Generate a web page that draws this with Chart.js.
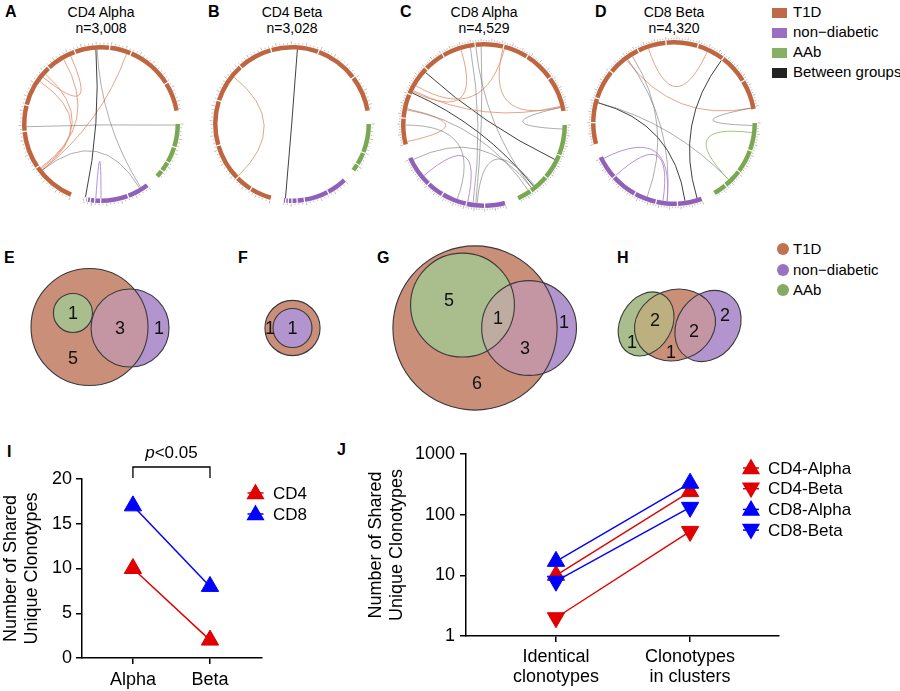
<!DOCTYPE html>
<html><head><meta charset="utf-8"><title>Shared clonotypes across T1D, non-diabetic and AAb donors</title>
<script src="https://cdn.jsdelivr.net/npm/chart.js@4.4.1/dist/chart.umd.min.js"></script>
<style>
html,body{margin:0;padding:0;background:#fff;}
body{width:900px;height:691px;position:relative;overflow:hidden;font-family:"Liberation Sans",Arial,Helvetica,sans-serif;color:#000;}
canvas{position:absolute;}
.L{position:absolute;font-weight:bold;font-size:16px;line-height:16px;}
.T{position:absolute;width:160px;text-align:center;font-size:14px;line-height:16px;}
.leg{position:absolute;font-size:15px;line-height:20px;white-space:nowrap;}
.sw{display:inline-block;width:15px;height:10px;margin-right:6px;vertical-align:-1px;}
.dot{display:inline-block;width:12px;height:12px;border-radius:50%;margin-right:4px;vertical-align:-1px;}
</style></head><body>

<div class="L" style="left:5px;top:4px">A</div>
<div class="L" style="left:208px;top:4px">B</div>
<div class="L" style="left:400px;top:4px">C</div>
<div class="L" style="left:595px;top:4px">D</div>
<div class="L" style="left:4px;top:250px">E</div>
<div class="L" style="left:238px;top:250px">F</div>
<div class="L" style="left:377px;top:250px">G</div>
<div class="L" style="left:617px;top:250px">H</div>
<div class="L" style="left:7px;top:444px">I</div>
<div class="L" style="left:337px;top:442px">J</div>

<div class="T" id="tA" style="left:21px;top:4px"></div>
<div class="T" id="tB" style="left:212px;top:4px"></div>
<div class="T" id="tC" style="left:404px;top:4px"></div>
<div class="T" id="tD" style="left:594px;top:4px"></div>

<div id="leg1"></div>
<div id="leg2"></div>

<canvas id="cA" width="200" height="200" style="left:1px;top:24px"></canvas>
<canvas id="cB" width="200" height="200" style="left:192px;top:24px"></canvas>
<canvas id="cC" width="200" height="200" style="left:384px;top:25px"></canvas>
<canvas id="cD" width="200" height="200" style="left:574px;top:23px"></canvas>

<canvas id="vE" width="200" height="180" style="left:0px;top:240px"></canvas>
<canvas id="vF" width="130" height="180" style="left:230px;top:240px"></canvas>
<canvas id="vG" width="230" height="200" style="left:370px;top:230px"></canvas>
<canvas id="vH" width="160" height="150" style="left:600px;top:250px"></canvas>

<canvas id="chI" width="340" height="261" style="left:0px;top:430px"></canvas>
<canvas id="chJ" width="560" height="261" style="left:340px;top:430px"></canvas>

<script>
// ======================= DATA =======================
// Circos panels (A-D): clonotype counts per donor, per group
const circosTitles = ['CD4 Alpha', 'CD4 Beta', 'CD8 Alpha', 'CD8 Beta'];
const circosTotals = [3008, 3028, 4529, 4320];
const groupNames = ['T1D', 'non\u2212diabetic', 'AAb', 'Between groups'];

const cd4AlphaT1D = [300, 260, 180, 300, 210, 240, 150, 320, 200];
const cd4AlphaAAb = [160, 112, 70, 50];
const cd4AlphaND  = [150, 190, 40, 30, 20, 12, 8, 6];
const cd4BetaT1D  = [150, 120, 260, 310, 280, 240, 330, 299, 250];
const cd4BetaAAb  = [200, 90, 49];
const cd4BetaND   = [140, 170, 50, 35, 25, 18, 12];
const cd8AlphaT1D = [260, 240, 300, 210, 330, 280, 250, 305, 350];
const cd8AlphaAAb = [300, 250, 200, 142];
const cd8AlphaND  = [200, 180, 250, 170, 312];
const cd8BetaT1D  = [200, 230, 280, 320, 270, 300, 260, 282, 280];
const cd8BetaAAb  = [260, 220, 180, 125];
const cd8BetaND   = [230, 200, 210, 250, 223];

// shared-clonotype links: [group, relative position in group, group, relative position, link type]
// group: T = T1D, A = AAb, N = non-diabetic ; type: T/A/N within group, X / XD between groups
const cd4AlphaLinks = [
  ['T', 0.447, 'T', 0.561, 'T'], ['T', 0.430, 'T', 0.122, 'T'], ['T', 0.460, 'T', 0.127, 'T'],
  ['T', 0.536, 'T', 0.131, 'T'], ['T', 0.747, 'T', 0.122, 'T'], ['T', 0.274, 'A', 0.02, 'X'],
  ['T', 0.646, 'N', 0.98, 'XD'], ['T', 0.650, 'N', 0.10, 'X'], ['T', 0.122, 'N', 0.12, 'X'],
  ['N', 0.74, 'N', 0.82, 'N']
];
const cd4BetaLinks = [
  ['T', 0.463, 'T', 0.123, 'T'], ['T', 0.689, 'N', 0.98, 'XD']
];
const cd8AlphaLinks = [
  ['T', 0.304, 'A', 0.40, 'XD'], ['T', 0.207, 'A', 0.785, 'XD'], ['T', 0.01, 'T', 0.136, 'T'],
  ['T', 0.641, 'T', 0.984, 'T'], ['T', 0.473, 'T', 0.212, 'T'], ['T', 0.647, 'T', 0.239, 'T'],
  ['T', 0.511, 'N', 0.284, 'X'], ['T', 0.533, 'A', 0.815, 'X'], ['N', 0.975, 'A', 0.815, 'X'],
  ['N', 0.802, 'N', 0.333, 'N'], ['N', 0.247, 'A', 0.77, 'X'], ['T', 0.984, 'A', 0.046, 'X'],
  ['T', 0.141, 'A', 0.86, 'X'], ['T', 0.554, 'N', 0.26, 'X'], ['T', 0.217, 'T', 0.98, 'T'],
  ['T', 0.076, 'N', 0.43, 'X']
];
const cd8BetaLinks = [
  ['T', 0.465, 'T', 0.703, 'T'], ['T', 0.368, 'T', 0.995, 'T'], ['T', 0.373, 'N', 0.294, 'X'],
  ['T', 0.768, 'N', 0.035, 'XD'], ['T', 0.162, 'N', 0.141, 'XD'], ['T', 0.162, 'A', 0.767, 'X'],
  ['A', 0.117, 'A', 0.767, 'A'], ['T', 0.995, 'A', 0.03, 'X'], ['N', 0.98, 'N', 0.294, 'N'],
  ['N', 0.80, 'N', 0.33, 'N'], ['T', 0.395, 'N', 0.47, 'X']
];

// Venn panels (E-H): region membership (T = T1D, A = AAb, N = non-diabetic) and counts
const vennERegions = ['T', 'TA', 'TN', 'N'];
const vennECounts  = [5, 1, 3, 1];
const vennFRegions = ['T', 'TN'];
const vennFCounts  = [1, 1];
const vennGRegions = ['T', 'TA', 'TAN', 'TN', 'N'];
const vennGCounts  = [6, 5, 1, 3, 1];
const vennHRegions = ['A', 'TA', 'T', 'TN', 'N'];
const vennHCounts  = [1, 2, 1, 2, 2];

// Panel I
const iCategories = ['Alpha', 'Beta'];
const iCD4 = [10, 2];
const iCD8 = [17, 8];
const iTicks = [0, 5, 10, 15, 20];

// Panel J
const jCategories = [['Identical', 'clonotypes'], ['Clonotypes', 'in clusters']];
const jCD4Alpha = [10, 240];
const jCD4Beta  = [2, 53];
const jCD8Alpha = [17, 330];
const jCD8Beta  = [8, 132];
const jTicks = [1, 10, 100, 1000];

// ======================= STYLE / LAYOUT =======================
const FONT = '"Liberation Sans", Arial, Helvetica, sans-serif';
Chart.defaults.font.family = FONT;
Chart.defaults.color = '#000';
Chart.defaults.animation = false;
Chart.defaults.events = [];
Chart.defaults.plugins.legend.display = false;
Chart.defaults.plugins.tooltip.enabled = false;

const RING_COLORS = { T: '#bf6640', A: '#7aa852', N: '#9161b9' };
const LEGEND_COLORS = ['#c0694a', '#9a6fc0', '#86b064', '#222222'];
const LINK_COLORS = {
  T: 'rgba(226,148,118,0.85)', A: 'rgba(150,196,110,0.95)', N: 'rgba(178,140,218,0.95)',
  X: 'rgba(105,105,105,0.55)', XD: 'rgba(30,30,30,0.85)'
};
const GAP_DEG = 10;

const VENN_COLORS = {
  T: 'rgb(201,143,121)', A: 'rgb(169,190,140)', N: 'rgb(178,148,206)',
  TN: 'rgb(196,150,163)', TA: 'rgb(189,176,128)', TAN: 'rgb(190,172,160)'
};
const VENN_DOT = ['#c27150', '#9b72c0', '#86a964'];

// ======================= HTML TEXT =======================
['tA', 'tB', 'tC', 'tD'].forEach((id, i) => {
  document.getElementById(id).innerHTML = circosTitles[i] + '<br>n=' + circosTotals[i].toLocaleString('en-US');
});
(function () {
  const l1 = document.getElementById('leg1');
  groupNames.forEach((g, i) => {
    const d = document.createElement('div');
    d.className = 'leg';
    d.style.left = '772px'; d.style.top = (2 + i * 20) + 'px';
    d.innerHTML = '<span class="sw" style="background:' + LEGEND_COLORS[i] + '"></span>' + g;
    l1.appendChild(d);
  });
  const l2 = document.getElementById('leg2');
  groupNames.slice(0, 3).forEach((g, i) => {
    const d = document.createElement('div');
    d.className = 'leg';
    d.style.left = '777px'; d.style.top = (239 + i * 20.5) + 'px';
    d.innerHTML = '<span class="dot" style="background:' + VENN_DOT[i] + '"></span>' + g;
    l2.appendChild(d);
  });
})();

// ======================= CIRCOS (doughnut + link plugin) =======================
function circosPlugin(links, ranges) {
  return {
    id: 'circosLinks',
    afterDatasetsDraw(chart) {
      const arcs = chart.getDatasetMeta(0).data;
      if (!arcs.length) return;
      const ctx = chart.ctx;
      const a0 = arcs[0];
      const cx = a0.x, cy = a0.y, rIn = a0.innerRadius, rOut = a0.outerRadius;
      const span = g => {
        const r = ranges[g];
        return [arcs[r.first].startAngle, arcs[r.last].endAngle, r.total];
      };
      ctx.save();
      // donor separators
      ctx.strokeStyle = '#ffffff';
      ctx.lineWidth = 1.2;
      Object.keys(ranges).forEach(g => {
        const r = ranges[g];
        ctx.beginPath();
        for (let i = r.first + 1; i <= r.last; i++) {
          const a = arcs[i].startAngle;
          ctx.moveTo(cx + Math.cos(a) * (rIn - 0.5), cy + Math.sin(a) * (rIn - 0.5));
          ctx.lineTo(cx + Math.cos(a) * (rOut + 0.5), cy + Math.sin(a) * (rOut + 0.5));
        }
        ctx.stroke();
      });
      // axis ticks
      ctx.strokeStyle = 'rgba(70,70,70,0.7)';
      ctx.lineWidth = 0.5;
      Object.keys(ranges).forEach(g => {
        const [s, e, n] = span(g);
        ctx.beginPath();
        for (let u = 0; u <= n; u += 25) {
          const a = s + (e - s) * u / n;
          const len = u % 100 === 0 ? 3 : 1.6;
          ctx.moveTo(cx + Math.cos(a) * (rOut + 0.6), cy + Math.sin(a) * (rOut + 0.6));
          ctx.lineTo(cx + Math.cos(a) * (rOut + 0.6 + len), cy + Math.sin(a) * (rOut + 0.6 + len));
        }
        ctx.stroke();
      });
      // links
      ctx.lineWidth = 1;
      links.forEach(([g1, f1, g2, f2, kind]) => {
        const [s1, e1] = span(g1), [s2, e2] = span(g2);
        const t1 = s1 + (e1 - s1) * f1, t2 = s2 + (e2 - s2) * f2;
        ctx.strokeStyle = LINK_COLORS[kind];
        ctx.beginPath();
        ctx.moveTo(cx + Math.cos(t1) * rIn, cy + Math.sin(t1) * rIn);
        ctx.quadraticCurveTo(cx, cy, cx + Math.cos(t2) * rIn, cy + Math.sin(t2) * rIn);
        ctx.stroke();
      });
      ctx.restore();
    }
  };
}

function makeCircos(id, parts, links, rotation, outerR, ring) {
  const total = parts.reduce((s, p) => s + p[1].reduce((a, b) => a + b, 0), 0);
  const gap = total * GAP_DEG / (360 - parts.length * GAP_DEG);
  const data = [], bg = [], ranges = {};
  parts.forEach(([g, arr]) => {
    ranges[g] = { first: data.length, last: data.length + arr.length - 1, total: arr.reduce((a, b) => a + b, 0) };
    arr.forEach(v => { data.push(v); bg.push(RING_COLORS[g]); });
    data.push(gap); bg.push('rgba(0,0,0,0)');
  });
  return new Chart(document.getElementById(id), {
    type: 'doughnut',
    data: { datasets: [{ data, backgroundColor: bg, borderWidth: 0 }] },
    options: {
      responsive: false, rotation, radius: outerR,
      cutout: (100 * (outerR - ring) / outerR).toFixed(2) + '%',
      layout: { padding: 0 }
    },
    plugins: [circosPlugin(links, ranges)]
  });
}

makeCircos('cA', [['T', cd4AlphaT1D], ['A', cd4AlphaAAb], ['N', cd4AlphaND]], cd4AlphaLinks, 203, 79, 4.5);
makeCircos('cB', [['T', cd4BetaT1D], ['A', cd4BetaAAb], ['N', cd4BetaND]], cd4BetaLinks, 196, 79, 4.5);
makeCircos('cC', [['T', cd8AlphaT1D], ['A', cd8AlphaAAb], ['N', cd8AlphaND]], cd8AlphaLinks, 256, 83, 4.5);
makeCircos('cD', [['T', cd8BetaT1D], ['A', cd8BetaAAb], ['N', cd8BetaND]], cd8BetaLinks, 255, 83, 4.5);

// ======================= VENN (bubble + overlap plugin) =======================
const VENN_LAYOUT = {
  vE: { k: 19.5, cx: 89.5, cy: 87, pos: { T: [0, 0], A: [-0.85, -0.72], N: [2.08, 0.05] },
        labels: [[-0.85, 1.59], [-0.85, -0.72], [1.56, 0.05], [3.56, 0.05]], overlaps: ['TN'] },
  vF: { k: 19.5, cx: 62.5, cy: 88, pos: { T: [0, 0], N: [0, 0] },
        labels: [[-1.15, 0], [0, 0]], overlaps: [] },
  vG: { k: 21.2, cx: 105, cy: 98, pos: { T: [0, 0], A: [-0.59, -1.08], N: [2.55, 0] },
        labels: [[0.09, 2.59], [-1.23, -1.32], [1.08, -0.47], [2.36, 0.94], [4.2, -0.28]], overlaps: ['TN', 'TAN'] },
  vH: { k: 17, cx: 75, cy: 75, ellipse: true, pos: { T: [0, 0], A: [-1.7, -0.06], N: [1.94, 0.06] },
        aspect: { T: 1.17, A: 1.32, N: 1.23 }, rot: { T: -20, A: -60, N: -55 },
        labels: [[-2.53, 1.0], [-1.18, -0.29], [-0.24, 1.59], [1.12, 0.35], [2.94, -0.59]], overlaps: ['TA', 'TN'] }
};

function vennPlugin(lay, sets, regions, counts) {
  return {
    id: 'vennRegions',
    afterDatasetsDraw(chart) {
      const ctx = chart.ctx, pts = chart.getDatasetMeta(0).data;
      const sx = chart.scales.x, sy = chart.scales.y;
      const unit = sx.getPixelForValue(1) - sx.getPixelForValue(0);
      const path = i => {
        const el = pts[i], s = sets[i];
        const r = Math.sqrt(el.$context.raw.size) * unit;
        const asp = (lay.aspect && lay.aspect[s]) || 1;
        const rot = ((lay.rot && lay.rot[s]) || 0) * Math.PI / 180;
        ctx.beginPath();
        ctx.ellipse(el.x, el.y, r * Math.sqrt(asp), r / Math.sqrt(asp), rot, 0, Math.PI * 2);
      };
      ctx.save();
      sets.forEach((s, i) => { path(i); ctx.fillStyle = VENN_COLORS[s]; ctx.fill(); });
      lay.overlaps.forEach(key => {
        ctx.save();
        key.split('').forEach(s => { path(sets.indexOf(s)); ctx.clip(); });
        ctx.fillStyle = VENN_COLORS[key];
        ctx.fillRect(0, 0, chart.width, chart.height);
        ctx.restore();
      });
      ctx.strokeStyle = '#3a3a3a';
      ctx.lineWidth = 1.1;
      sets.forEach((s, i) => { path(i); ctx.stroke(); });
      ctx.fillStyle = '#111';
      ctx.font = '18px ' + FONT;
      ctx.textAlign = 'center';
      ctx.textBaseline = 'middle';
      regions.forEach((r, i) => {
        const [u, v] = lay.labels[i];
        ctx.fillText(String(counts[i]), sx.getPixelForValue(u), sy.getPixelForValue(v) + 1);
      });
      ctx.restore();
    }
  };
}

function makeVenn(id, regions, counts) {
  const lay = VENN_LAYOUT[id];
  const cv = document.getElementById(id);
  const sets = ['T', 'A', 'N'].filter(s => regions.some(r => r.includes(s)));
  const totals = sets.map(s => regions.reduce((acc, r, i) => acc + (r.includes(s) ? counts[i] : 0), 0));
  return new Chart(cv, {
    type: 'bubble',
    data: {
      datasets: [{
        // bubble area proportional to the set size (r in px = sqrt(size) * px per unit)
        data: sets.map((s, i) => ({ x: lay.pos[s][0], y: lay.pos[s][1], size: totals[i], r: lay.ellipse ? 0 : Math.sqrt(totals[i]) * lay.k })),
        backgroundColor: sets.map(s => VENN_COLORS[s]),
        borderWidth: 0,
        clip: false
      }]
    },
    options: {
      responsive: false,
      layout: { padding: 0, autoPadding: false },
      scales: {
        x: { type: 'linear', display: false, min: -lay.cx / lay.k, max: (cv.width - lay.cx) / lay.k },
        y: { type: 'linear', display: false, reverse: true, min: -lay.cy / lay.k, max: (cv.height - lay.cy) / lay.k }
      }
    },
    plugins: [vennPlugin(lay, sets, regions, counts)]
  });
}
makeVenn('vE', vennERegions, vennECounts);
makeVenn('vF', vennFRegions, vennFCounts);
makeVenn('vG', vennGRegions, vennGCounts);
makeVenn('vH', vennHRegions, vennHCounts);

// ======================= PANELS I & J (line charts) =======================
const RED = '#e00000', BLUE = '#0000ff';
const axisGrid = { display: true, drawOnChartArea: false, drawTicks: true, tickLength: 6, color: '#000', lineWidth: 1.5 };
const axisBorder = { display: true, color: '#000', width: 1.5 };

function drawLegend(ctx, items, x, textX, y0, dy) {
  ctx.save();
  ctx.font = '17px ' + FONT;
  ctx.textBaseline = 'middle';
  ctx.textAlign = 'left';
  items.forEach((it, i) => {
    const y = y0 + i * dy;
    ctx.strokeStyle = it.color; ctx.lineWidth = 1.5;
    ctx.beginPath(); ctx.moveTo(x - 8, y); ctx.lineTo(x + 8, y); ctx.stroke();
    ctx.fillStyle = it.color;
    Chart.helpers.drawPoint(ctx, { pointStyle: 'triangle', radius: 9, rotation: it.rot, borderWidth: 1 }, x, y + (it.rot ? -1 : 1));
    ctx.fillStyle = '#000';
    ctx.fillText(it.label, textX, y + 1);
  });
  ctx.restore();
}

const iExtras = {
  id: 'iExtras',
  afterDraw(chart) {
    const { ctx, scales: { x }, chartArea } = chart;
    const xa = x.getPixelForValue(0), xb = x.getPixelForValue(1);
    const top = chartArea.top;
    ctx.save();
    ctx.strokeStyle = '#000'; ctx.lineWidth = 1.3;
    ctx.beginPath();
    ctx.moveTo(xa, top - 1); ctx.lineTo(xa, top - 12); ctx.lineTo(xb, top - 12); ctx.lineTo(xb, top - 1);
    ctx.stroke();
    ctx.fillStyle = '#000'; ctx.textBaseline = 'middle'; ctx.textAlign = 'left';
    const p = 'p', rest = '<0.05';
    ctx.font = 'italic 17px ' + FONT; const wp = ctx.measureText(p).width;
    ctx.font = '17px ' + FONT; const wr = ctx.measureText(rest).width;
    const sx = (xa + xb) / 2 - (wp + wr) / 2;
    ctx.font = 'italic 17px ' + FONT; ctx.fillText(p, sx, top - 26);
    ctx.font = '17px ' + FONT; ctx.fillText(rest, sx + wp, top - 26);
    ctx.restore();
    drawLegend(ctx, [
      { label: 'CD4', color: RED, rot: 0 },
      { label: 'CD8', color: BLUE, rot: 0 }
    ], 255.5, 273, 63, 21);
  }
};

new Chart(document.getElementById('chI'), {
  type: 'line',
  data: {
    datasets: [
      { label: 'CD8', data: iCD8.map((v, i) => ({ x: i, y: v })), borderColor: BLUE, backgroundColor: BLUE,
        borderWidth: 1.5, pointStyle: 'triangle', pointRadius: 10, pointBorderColor: BLUE, pointBackgroundColor: BLUE, pointBorderWidth: 1 },
      { label: 'CD4', data: iCD4.map((v, i) => ({ x: i, y: v })), borderColor: RED, backgroundColor: RED,
        borderWidth: 1.5, pointStyle: 'triangle', pointRadius: 10, pointBorderColor: RED, pointBackgroundColor: RED, pointBorderWidth: 1 }
    ]
  },
  options: {
    responsive: false,
    layout: { padding: { left: 0, top: 49, right: 78, bottom: 0 } },
    scales: {
      x: {
        type: 'linear', min: -0.661, max: 1.675,
        afterBuildTicks: s => { s.ticks = iCategories.map((_, i) => ({ value: i })); },
        afterFit: s => { s.height = 33; },
        ticks: { callback: v => iCategories[v], font: { size: 18 }, padding: 5, autoSkip: false, maxRotation: 0 },
        grid: axisGrid, border: axisBorder
      },
      y: {
        type: 'linear', min: 0, max: 20,
        afterBuildTicks: s => { s.ticks = iTicks.map(v => ({ value: v })); },
        afterFit: s => { s.width = 82; },
        ticks: { font: { size: 18 }, padding: 4 },
        grid: axisGrid, border: axisBorder,
        title: { display: true, text: ['Number of Shared', 'Unique Clonotypes'], font: { size: 18 }, padding: { top: 0, bottom: 0 } }
      }
    }
  },
  plugins: [iExtras]
});

const jExtras = {
  id: 'jExtras',
  afterDraw(chart) {
    drawLegend(chart.ctx, [
      { label: 'CD4-Alpha', color: RED, rot: 0 },
      { label: 'CD4-Beta', color: RED, rot: 180 },
      { label: 'CD8-Alpha', color: BLUE, rot: 0 },
      { label: 'CD8-Beta', color: BLUE, rot: 180 }
    ], 411, 428, 38, 20.7);
  }
};

function jSet(label, values, color, rot) {
  return {
    label, data: values.map((v, i) => ({ x: i, y: v })), borderColor: color, backgroundColor: color,
    borderWidth: 1.4, pointStyle: 'triangle', pointRotation: rot, pointRadius: 10,
    pointBorderColor: color, pointBackgroundColor: color, pointBorderWidth: 1
  };
}

new Chart(document.getElementById('chJ'), {
  type: 'line',
  data: {
    datasets: [
      jSet('CD8-Alpha', jCD8Alpha, BLUE, 0),
      jSet('CD8-Beta', jCD8Beta, BLUE, 180),
      jSet('CD4-Alpha', jCD4Alpha, RED, 0),
      jSet('CD4-Beta', jCD4Beta, RED, 180)
    ]
  },
  options: {
    responsive: false,
    layout: { padding: { left: 0, top: 24, right: 121, bottom: 0 } },
    scales: {
      x: {
        type: 'linear', min: -0.671, max: 1.663,
        afterBuildTicks: s => { s.ticks = jCategories.map((_, i) => ({ value: i })); },
        afterFit: s => { s.height = 55; },
        ticks: { callback: v => jCategories[v], font: { size: 18, lineHeight: 1.1 }, padding: 5, autoSkip: false, maxRotation: 0 },
        grid: axisGrid, border: axisBorder
      },
      y: {
        type: 'logarithmic', min: 1, max: 1000,
        afterBuildTicks: s => { s.ticks = jTicks.map(v => ({ value: v })); },
        afterFit: s => { s.width = 126; },
        ticks: { callback: v => String(v), font: { size: 18 }, padding: 5, autoSkip: false },
        grid: axisGrid, border: axisBorder,
        title: { display: true, text: ['Number of Shared', 'Unique Clonotypes'], font: { size: 18 }, padding: { top: 25, bottom: 0 } }
      }
    }
  },
  plugins: [jExtras]
});
</script>
</body></html>
